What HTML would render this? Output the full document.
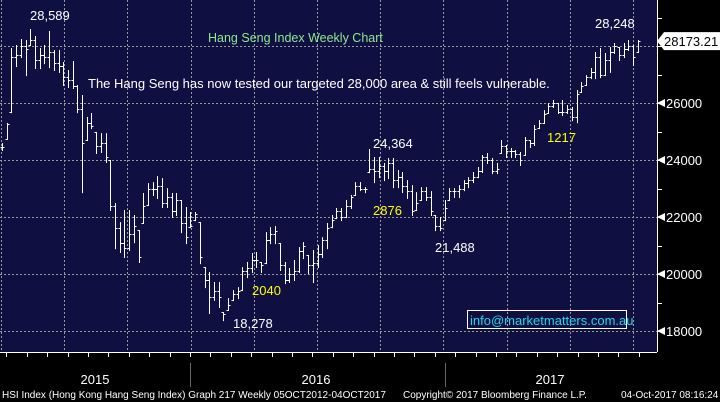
<!DOCTYPE html>
<html><head><meta charset="utf-8"><style>
body{margin:0;background:#000;width:720px;height:402px;overflow:hidden;font-family:"Liberation Sans",sans-serif}
svg{display:block}
</style></head><body>
<svg id="chart" width="720" height="402" xmlns="http://www.w3.org/2000/svg">
<rect x="0" y="0" width="720" height="402" fill="#000"/>
<rect x="0" y="0" width="657" height="352" fill="#0f0f42"/>
<g id="grid"></g>
<g id="bars"></g>
<line x1="657.5" y1="0" x2="657.5" y2="352" stroke="#fff" stroke-width="1"/>
<line x1="0" y1="352.5" x2="657" y2="352.5" stroke="#fff" stroke-width="1"/>
<g id="yaxis"></g>
<g id="xaxis"></g>
<g font-size="13" fill="#fff">
<text x="30" y="20">28,589</text>
<text x="208" y="42" fill="#8fe88f" font-size="12.5">Hang Seng Index Weekly Chart</text>
<text x="88" y="88">The Hang Seng has now tested our targeted 28,000 area &amp; still feels vulnerable.</text>
<text x="373" y="148">24,364</text>
<text x="373" y="215" fill="#ffff00">2876</text>
<text x="435" y="252">21,488</text>
<text x="252" y="295" fill="#ffff00">2040</text>
<text x="233" y="328">18,278</text>
<text x="547" y="142" fill="#ffff00">1217</text>
<text x="595" y="28">28,248</text>
</g>
<rect x="467.5" y="310.5" width="159" height="18" fill="none" stroke="#fff"/>
<text x="470" y="325" fill="#22d8e8" font-size="13">info@marketmatters.com.au</text>
<g font-family="'Liberation Sans Narrow','Liberation Sans',sans-serif" font-size="10" fill="#fff">
<text x="2" y="398">HSI Index (Hong Kong Hang Seng Index) Graph 217  Weekly 05OCT2012-04OCT2017</text>
<text x="403" y="398">Copyright© 2017 Bloomberg Finance L.P.</text>
<text x="621" y="398">04-Oct-2017 08:16:24</text>
</g>
</svg>
<script>
const highs=[24595,25300,27930,28035,28245,28210,28595,28350,27930,28035,28525,27860,27860,27440,27160,27475,26630,26280,25510,25650,24980,24945,24945,24000,22490,21820,22245,22245,22070,21540,22840,23190,23225,23435,23365,23015,22840,22840,22595,22350,22175,22175,21820,20240,20070,19720,19720,18660,19155,19435,19540,20240,20420,20735,20770,20420,21470,21645,21680,21085,20420,20210,20490,20945,21120,20665,20840,21015,21295,21790,22070,22315,22315,22595,22770,23225,23225,23050,24385,24105,24105,23895,24070,24070,23650,23580,23295,23120,22875,23050,23050,22910,22070,22000,22595,23015,23015,23120,23295,23400,23580,23755,24175,24245,24070,23895,24700,24525,24420,24350,24280,24805,24700,25230,25400,25750,26000,26105,26000,26105,25930,25860,26455,26735,26980,27230,27790,27930,27755,27965,28105,27965,28105,28210,28035,28210];
const lows=[24350,24740,25680,27300,27615,26980,28035,27230,27230,27400,27260,27160,27090,26630,26560,26525,25680,22875,24700,25120,24245,24280,23930,22245,20910,20770,20595,20840,21120,20420,21790,22420,22770,22665,22350,22350,22000,22070,21470,21085,21645,21890,20380,19540,18630,19090,18840,18380,18735,19085,19155,19435,19890,20070,20245,20070,20380,21085,21085,20140,19680,19720,19790,20070,20560,20035,19715,20245,20595,20910,21645,21960,21890,21995,22315,22770,22945,22875,23575,23225,23400,23295,23365,23050,23050,22875,22665,22070,22245,22595,22595,22070,21540,21540,21890,22595,22700,22700,22945,23050,23225,23400,23580,23895,23540,23540,24245,24105,24105,24105,23825,24175,24455,24525,25120,25300,25650,25860,25650,25580,25650,25400,25330,26385,26630,26875,26875,26910,26980,27090,27755,27510,27615,27860,27335,27790];
const closes=[24450,25250,27600,27700,28000,27900,28200,27500,27700,27600,27800,27400,27300,26900,26800,26600,25800,24600,25300,25200,24500,24600,24100,22400,21600,21100,20900,21400,21700,20600,22400,23000,23000,23100,22500,22700,22200,22600,21800,21300,21700,22100,20600,19800,19200,19400,19200,18600,18900,19300,19400,20100,20200,20500,20500,20300,21200,21400,21500,20300,19800,20000,20100,20800,21000,20300,20400,20700,21200,21600,21900,22200,22000,22400,22700,23100,23000,23000,23700,23600,23800,23600,23900,23300,23400,23100,22900,22200,22500,22900,22700,22200,21700,21600,22300,22900,22900,23000,23200,23300,23400,23600,24100,24000,23600,23700,24500,24300,24300,24200,24000,24700,24600,25100,25300,25600,25900,26000,25700,25700,25800,25500,26300,26600,26900,27100,27600,27000,27500,27800,28000,27700,27900,28000,27600,28173.21];
const yTicks=[18000,20000,22000,24000,26000,28000];
const years=["2015","2016","2017"];
const lastPrice="28173.21";

const NS="http://www.w3.org/2000/svg";
function el(t,a,p){const e=document.createElementNS(NS,t);for(const k in a)e.setAttribute(k,a[k]);p.appendChild(e);return e;}
function y(p){return 46+(28000-p)*57/2000;}
function x(i){return 2+i*4.71;}
const grid=document.getElementById('grid'),bars=document.getElementById('bars'),ya=document.getElementById('yaxis'),xa=document.getElementById('xaxis');
// grid lines
for(const t of yTicks){const g=el('line',{x1:0,x2:657,y1:Math.round(y(t))+0.5,y2:Math.round(y(t))+0.5,stroke:'#9a9a9a','stroke-dasharray':'2,2','stroke-width':1},grid);

}
for(let gx=1;gx<657;gx+=63.2){const g=el('line',{x1:Math.round(gx)+0.5,x2:Math.round(gx)+0.5,y1:0,y2:352,stroke:'#9a9a9a','stroke-dasharray':'2,2','stroke-width':1},grid);

}
// bars
for(let i=0;i<highs.length;i++){
 const xi=Math.round(x(i))+0.5;
 const open=i>0?Math.min(Math.max(closes[i-1],lows[i]),highs[i]):(highs[i]+lows[i])/2;
 const g=el('g',{stroke:'#fff','stroke-width':1},bars);
 
 
 el('line',{x1:xi,x2:xi,y1:y(highs[i]),y2:y(lows[i])+1},g);
 el('line',{x1:xi-2,x2:xi,y1:Math.round(y(open))+0.5,y2:Math.round(y(open))+0.5},g);
 el('line',{x1:xi,x2:xi+2,y1:Math.round(y(closes[i]))+0.5,y2:Math.round(y(closes[i]))+0.5},g);
}
// y axis
for(let p=18000;p<=29000;p+=1000){const yy=Math.round(y(p))+0.5;
 const tk=el('line',{x1:657,x2:662,y1:yy,y2:yy,stroke:'#fff'},ya);
 
 }
for(const t of yTicks){if(t===28000)continue;const yy=y(t);
 const ar=el('path',{d:`M657 ${yy} L665 ${yy-4} L665 ${yy+4}Z`,fill:'#fff'},ya);
 
 
 const tx=el('text',{x:666,y:yy+5,fill:'#fff','font-size':13},ya);tx.textContent=t;
 
 }
{const yy=y(28173.21);
 const bx=el('path',{d:`M657 ${yy} L664 ${yy-9} L720 ${yy-9} L720 ${yy+9} L664 ${yy+9}Z`,fill:'#fff'},ya);
 
 
 const tx=el('text',{x:664,y:yy+5,fill:'#000','font-size':13},ya);tx.textContent=lastPrice;
 
 }
// x axis
for(let mx=190-20.4*9;mx<657;mx+=20.4){if(mx<0)continue;
 const tk=el('line',{x1:Math.round(mx)+0.5,x2:Math.round(mx)+0.5,y1:352,y2:357,stroke:'#fff'},xa);
 
 }
[190,445].forEach(sx=>{const l=el('line',{x1:sx+0.5,x2:sx+0.5,y1:363,y2:387,stroke:'#666'},xa);
 
 });
const yx=[95,316,550];
years.forEach((yr,i)=>{const tx=el('text',{x:yx[i],y:384,fill:'#fff','font-size':13,'text-anchor':'middle'},xa);tx.textContent=yr;
 
 });
</script>
</body></html>
